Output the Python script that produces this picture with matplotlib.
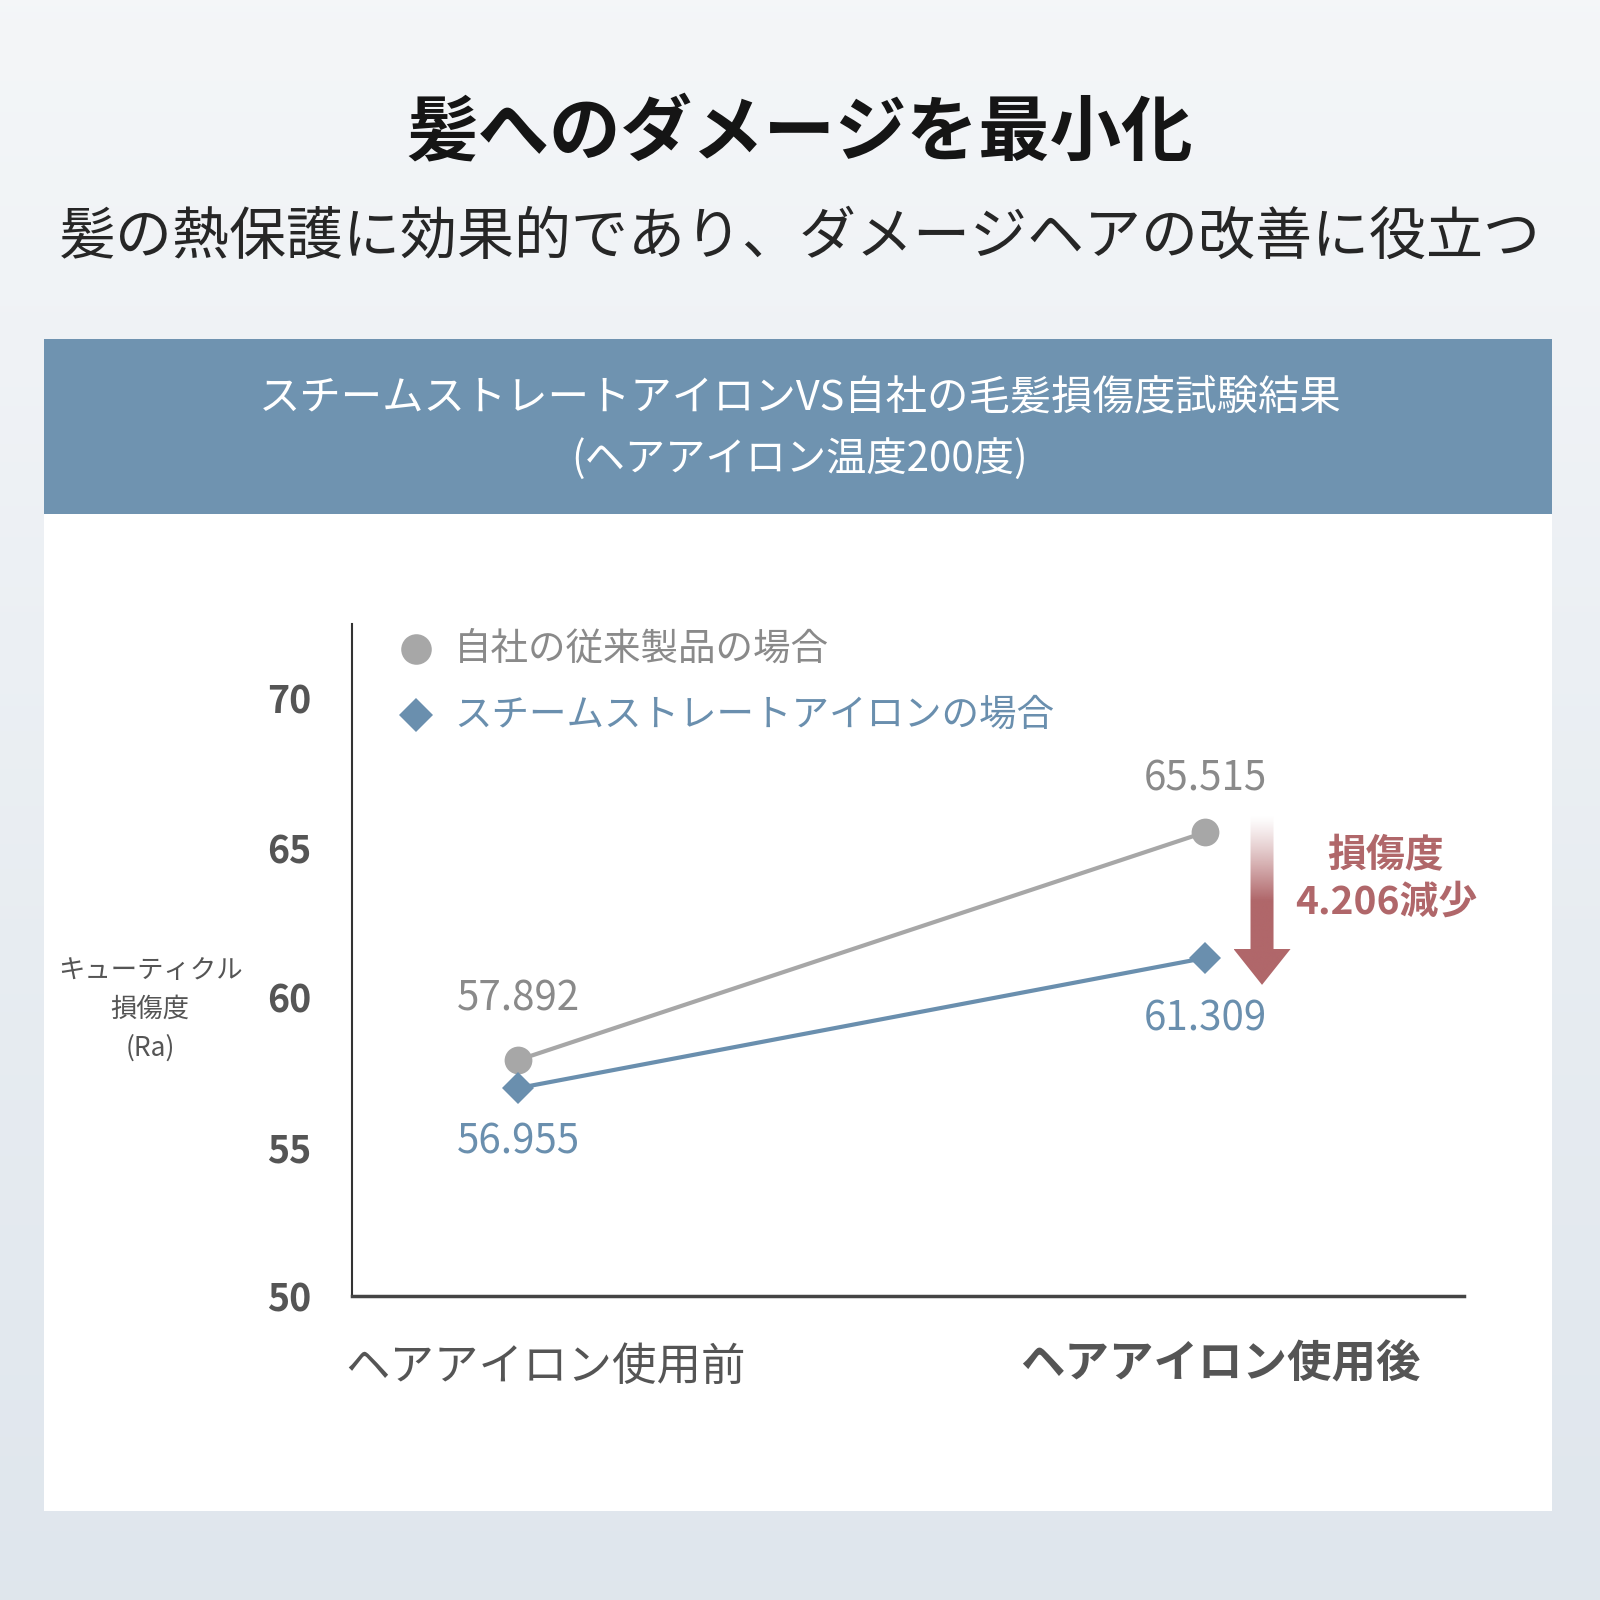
import numpy as np
import matplotlib
matplotlib.use("Agg")
import matplotlib.pyplot as plt
import matplotlib.transforms as mtransforms
from matplotlib.patches import Rectangle, Polygon
from matplotlib.lines import Line2D

plt.rcParams['font.family'] = ['Noto Sans CJK JP', 'DejaVu Sans']

# ---------------- data ----------------
categories = ["ヘアアイロン使用前", "ヘアアイロン使用後"]
series_names = ["自社の従来製品の場合", "スチームストレートアイロンの場合"]
conventional = [57.892, 65.515]
steam = [56.955, 61.309]
yticks = [50, 55, 60, 65, 70]
reduction_text = "損傷度\n4.206減少"

title = "髪へのダメージを最小化"
subtitle = "髪の熱保護に効果的であり、ダメージヘアの改善に役立つ"
header1 = "スチームストレートアイロンVS自社の毛髪損傷度試験結果"
header2 = "(ヘアアイロン温度200度)"
ylabel = "キューティクル\n損傷度\n(Ra)"

GRAY = "#a7a7a7"
GRAY_TXT = "#8a8a8a"
BLUE = "#6a8fae"
RED = "#b0676a"
DARK = "#555555"
HEADER = "#6f93b0"

W = H = 1600
fig = plt.figure(figsize=(16, 16), dpi=100)

def fx(px):
    return px / W

def fy(py):
    return 1 - py / H

# background gradient
bg = fig.add_axes([0, 0, 1, 1], zorder=-10)
grad = np.linspace(0, 1, 256)[:, None]
top = np.array([0.957, 0.965, 0.973])
bot = np.array([0.875, 0.902, 0.929])
img = top[None, None, :] * (1 - grad[:, :, None]) + bot[None, None, :] * grad[:, :, None]
bg.imshow(img, extent=[0, 1, 0, 1], aspect='auto', origin='upper')
bg.set_xlim(0, 1); bg.set_ylim(0, 1)
bg.axis('off')

# panel + header
bg.add_patch(Rectangle((fx(44), fy(1511)), fx(1552) - fx(44), fy(514) - fy(1511),
                       facecolor='white', edgecolor='none'))
bg.add_patch(Rectangle((fx(44), fy(514)), fx(1552) - fx(44), fy(339) - fy(514),
                       facecolor=HEADER, edgecolor='none'))

fig.text(0.5, fy(133), title, ha='center', va='center', fontsize=51.5,
         fontweight='bold', color='#151515')
fig.text(0.5, fy(238), subtitle, ha='center', va='center', fontsize=41,
         color='#262626')
fig.text(0.5, fy(398), header1, ha='center', va='center', fontsize=29.8,
         color='white')
fig.text(0.5, fy(459), header2, ha='center', va='center', fontsize=29,
         color='white')

# ---------------- chart axes ----------------
ax_l, ax_r, ax_t, ax_b = 352, 1464, 624, 1296
ax = fig.add_axes([fx(ax_l), fy(ax_b), fx(ax_r) - fx(ax_l), fy(ax_t) - fy(ax_b)])
ax.set_facecolor('none')
ppu_x = 687.0
ppu_y = 29.89
x0_px = 518
ax.set_xlim(-(x0_px - ax_l) / ppu_x, 1 + (ax_r - (x0_px + ppu_x)) / ppu_x)
ax.set_ylim(50, 50 + (ax_b - ax_t) / ppu_y)

xs = np.arange(len(categories))
ax.plot(xs, conventional, color=GRAY, lw=3, marker='o', markersize=20,
        markeredgewidth=0, zorder=3)
ax.plot(xs, steam, color=BLUE, lw=3, marker='D', markersize=16,
        markeredgewidth=0, zorder=4)

for sp in ['top', 'right']:
    ax.spines[sp].set_visible(False)
ax.spines['left'].set_color('#333333')
ax.spines['left'].set_linewidth(1.5)
ax.spines['bottom'].set_color('#444444')
ax.spines['bottom'].set_linewidth(2.5)

ax.set_yticks(yticks)
ax.set_yticklabels([str(v) for v in yticks], fontsize=27, fontweight='bold',
                   color=DARK)
ax.tick_params(axis='y', length=0, pad=29)

# category labels (placed under each category, slightly offset like the original)
ax.set_xticks(xs)
ax.set_xticklabels([])
ax.tick_params(axis='x', length=0)
cat_offsets = [(20, -51), (11, -49)]   # points
cat_weights = ['normal', 'bold']
for x, lbl, (dx, dy), wt in zip(xs, categories, cat_offsets, cat_weights):
    tr = mtransforms.offset_copy(ax.get_xaxis_transform(), fig=fig,
                                 x=dx, y=dy, units='points')
    ax.text(x, 0, lbl, transform=tr, ha='center', va='center', fontsize=32,
            color=DARK, fontweight=wt, clip_on=False)

# data labels (offsets in points)
def lab(x, y, txt, color, dy):
    ax.annotate(txt, (x, y), xytext=(0, dy), textcoords='offset points',
                ha='center', va='center', fontsize=29, color=color)

lab(0, conventional[0], f"{conventional[0]:.3f}", GRAY_TXT, 44)
lab(1, conventional[1], f"{conventional[1]:.3f}", GRAY_TXT, 38)
lab(0, steam[0], f"{steam[0]:.3f}", BLUE, -39)
lab(1, steam[1], f"{steam[1]:.3f}", BLUE, -44)

# y label
fig.text(fx(150), fy(1009), ylabel, ha='center', va='center', fontsize=19,
         color=DARK, linespacing=1.55)

# legend (manual)
leg_items = [(series_names[0], 'o', GRAY, GRAY_TXT, 649, 22),
             (series_names[1], 'D', BLUE, BLUE, 715, 17)]
for name, mk, mc, tc, py, ms in leg_items:
    fig.add_artist(Line2D([fx(416)], [fy(py)], marker=mk, color=mc,
                          markersize=ms, markeredgewidth=0,
                          transform=fig.transFigure))
    fig.text(fx(454), fy(py), name, ha='left', va='center', fontsize=27,
             color=tc)

# gradient arrow showing reduction
ax_x = 1.083
shaft_hw = 11.5 / ppu_x
head_hw = 28.5 / ppu_x
y_top = conventional[1] + 0.55
y_head = steam[1] + 0.3
y_tip = steam[1] - 0.9
poly = Polygon([(ax_x - shaft_hw, y_top), (ax_x + shaft_hw, y_top),
                (ax_x + shaft_hw, y_head), (ax_x + head_hw, y_head),
                (ax_x, y_tip), (ax_x - head_hw, y_head),
                (ax_x - shaft_hw, y_head)], closed=True,
               facecolor='none', edgecolor='none', transform=ax.transData)
ax.add_patch(poly)
rgb = np.array(matplotlib.colors.to_rgb(RED))
t = np.linspace(0, 1, 256)
alpha = np.clip(t / 0.5, 0, 1) ** 1.2
arr_img = np.zeros((256, 1, 4))
arr_img[:, 0, :3] = rgb
arr_img[:, 0, 3] = alpha
im = ax.imshow(arr_img, extent=[ax_x - head_hw, ax_x + head_hw, y_tip, y_top],
               aspect='auto', origin='upper', zorder=5, interpolation='bilinear')
im.set_clip_path(poly)
ax.set_xlim(-(x0_px - ax_l) / ppu_x, 1 + (ax_r - (x0_px + ppu_x)) / ppu_x)
ax.set_ylim(50, 50 + (ax_b - ax_t) / ppu_y)

fig.text(fx(1386), fy(879), reduction_text, ha='center', va='center',
         fontsize=28, fontweight='bold', color=RED, linespacing=1.25)

fig.savefig("out.png", dpi=100)
